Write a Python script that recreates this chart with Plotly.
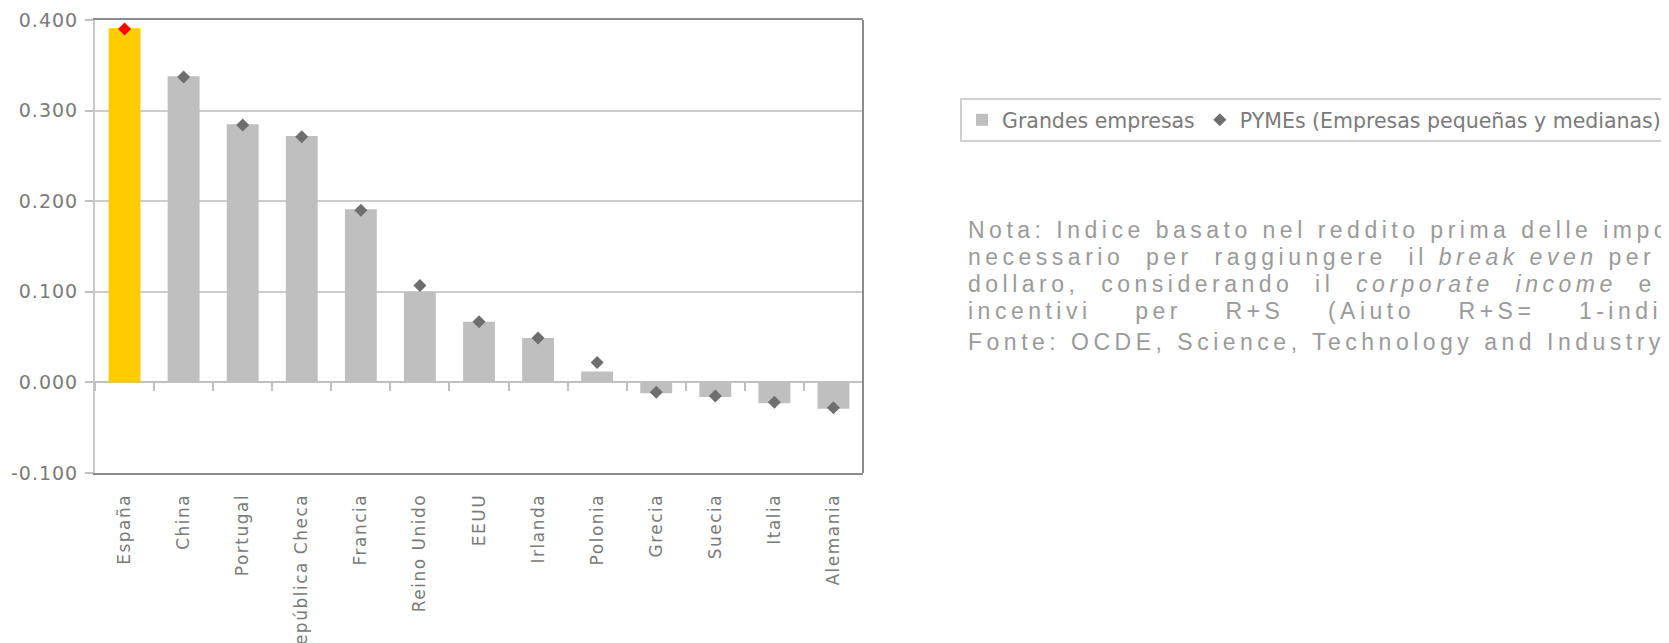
import plotly.graph_objects as go

# ---- data ----
categories = ["España", "China", "Portugal", "República Checa", "Francia", "Reino Unido",
              "EEUU", "Irlanda", "Polonia", "Grecia", "Suecia", "Italia", "Alemania"]
grandes = [0.391, 0.338, 0.285, 0.272, 0.191, 0.100, 0.067, 0.049, 0.012, -0.012, -0.016, -0.023, -0.029]
pymes = [0.390, 0.337, 0.284, 0.271, 0.190, 0.107, 0.067, 0.049, 0.022, -0.011, -0.015, -0.022, -0.028]
y_ticks = [-0.1, 0.0, 0.1, 0.2, 0.3, 0.4]

# page has an 8px body margin -> figure is 8px smaller than the window
OFF = 8
W, H = 1669 - OFF, 643 - OFF
L, T = 95 - OFF, 20 - OFF
PW, PH = 768, 453
R, B = W - L - PW, H - T - PH

def px_x(px):  # page pixel -> paper x
    return (px - OFF - L) / PW

def px_y(py):  # page pixel -> paper y
    return (T + PH - (py - OFF)) / PH

def ls(t, s):
    return f'<span style="letter-spacing:{s}px">{t}</span>'

fig = go.Figure()

fig.add_trace(go.Bar(x=categories[1:], y=grandes[1:], name="Grandes empresas",
                     marker=dict(color="#BFBFBF", line=dict(width=0))))
fig.add_trace(go.Bar(x=categories[:1], y=grandes[:1], name="España",
                     marker=dict(color="#FFCC00", line=dict(width=0)), showlegend=False))
fig.add_trace(go.Scatter(x=categories[1:], y=pymes[1:], mode="markers",
                         name="PYMEs (Empresas pequeñas y medianas)", xaxis="x2",
                         marker=dict(symbol="diamond", size=10, color="#6E6E6E", line=dict(width=0))))
fig.add_trace(go.Scatter(x=categories[:1], y=pymes[:1], mode="markers", name="España PYMEs",
                         xaxis="x2", showlegend=False,
                         marker=dict(symbol="diamond", size=10, color="#FF0000", line=dict(width=0))))

ymin, ymax = -0.1, 0.4
zero_frac = (0 - ymin) / (ymax - ymin)
gray_txt = "#7a7a7a"

fig.update_layout(
    width=W, height=H,
    margin=dict(l=L, r=R, t=T, b=B, autoexpand=False),
    paper_bgcolor="white", plot_bgcolor="white",
    barmode="overlay", bargap=0.46,
    xaxis=dict(type="category", categoryorder="array", categoryarray=categories,
               range=[-0.5, len(categories) - 0.5], automargin=False,
               tickvals=categories, ticktext=[ls(c, 1.5) for c in categories],
               showline=True, linecolor="#8c8c8c", linewidth=2, mirror=True,
               ticks="", showgrid=False, tickangle=-90,
               tickfont=dict(family="DejaVu Sans", size=17, color=gray_txt),
               ticklabelstandoff=12),
    xaxis2=dict(type="category", categoryorder="array", categoryarray=categories,
                range=[-0.5, len(categories) - 0.5], automargin=False,
                overlaying="x", anchor="free", position=zero_frac,
                showticklabels=False, showline=False, showgrid=False,
                ticks="outside", tickson="boundaries", ticklen=8,
                tickcolor="#c0c0c0", tickwidth=1.5),
    yaxis=dict(range=[ymin, ymax], tickvals=y_ticks, automargin=False,
               ticktext=[ls(f"{v:.3f}", 1) for v in y_ticks],
               showgrid=True, gridcolor="#cccccc", gridwidth=1.5,
               zeroline=True, zerolinecolor="#c0c0c0", zerolinewidth=1.5,
               showline=True, linecolor="#c8c8c8", linewidth=2,
               ticks="outside", ticklen=8, tickcolor="#c0c0c0", tickwidth=1.5,
               tickfont=dict(family="DejaVu Sans", size=19, color=gray_txt),
               ticklabelstandoff=3),
    legend=dict(orientation="h", xref="container", yref="container",
                x=(960 - OFF) / W, y=1 - (98 - OFF) / H, xanchor="left", yanchor="top",
                bordercolor="#cfcfcf", borderwidth=2, bgcolor="white",
                font=dict(family="DejaVu Sans", size=20.5, color=gray_txt),
                itemclick=False, itemdoubleclick=False),
    showlegend=True,
)

# right border of the plot area
fig.add_shape(type="line", xref="paper", yref="paper", x0=1, x1=1, y0=0, y1=1,
              line=dict(color="#8c8c8c", width=2))

# note text (justified look via extra non-breaking spaces)
note_font = dict(family="Liberation Sans", size=23, color="#9a9a9a")
s1, s2, s4 = "\u00a0", "\u00a0" * 2, "\u00a0" * 4
note_lines = [
    ("Nota: Indice basato nel reddito prima delle imposte", 230),
    (f"necessario{s2}per{s2}raggiungere{s2}il{s1}<i>break{s1}even</i>{s1}per{s2}un", 257),
    (f"dollaro,{s2}considerando{s2}il{s2}<i>corporate{s2}income</i>{s2}e{s2}gli", 284),
    (f"incentivi{s4}per{s4}R+S{s4}(Aiuto{s4}R+S={s4}1-indice{s4}B)", 311),
    ("Fonte: OCDE, Science, Technology and Industry Scoreboard", 342),
]
for txt, yc in note_lines:
    fig.add_annotation(text=ls(txt, 4.5), xref="paper", yref="paper", x=px_x(966), y=px_y(yc),
                       xanchor="left", yanchor="middle", showarrow=False, font=note_font,
                       align="left")

fig.write_html("out.html")
